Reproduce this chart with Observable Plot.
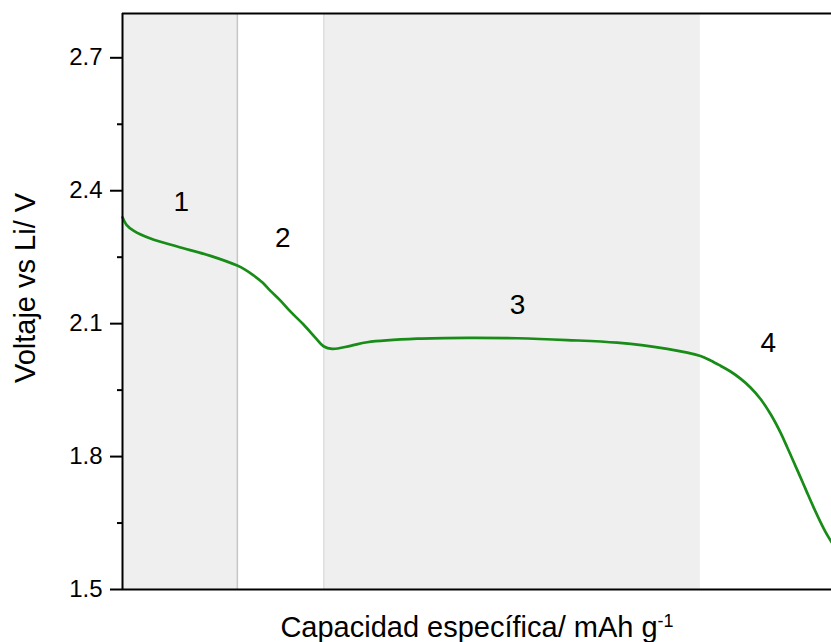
<!DOCTYPE html>
<html>
<head>
<meta charset="utf-8">
<script src="https://cdn.jsdelivr.net/npm/d3@7"></script>
<script src="https://cdn.jsdelivr.net/npm/@observablehq/plot@0.6"></script>
<style>
  html, body { margin: 0; padding: 0; background: white; }
</style>
</head>
<body>
<div id="chart"></div>
<script>
// Discharge curve (capacity in arbitrary units, voltage in V)
const capacity = [0, 0.56, 1.55, 3.95, 7.72, 12.41, 16.18, 17.28, 18.48, 19.75, 20.87, 22.28, 23.70, 25.53, 27.22, 28.35, 29.58, 32.16, 34.51, 41.57, 48.62, 55.67, 62.72, 69.77, 76.83, 81.52, 82.94, 84.34, 85.75, 87.16, 88.57, 89.99, 91.40, 92.81, 93.75, 94.64, 95.63, 96.47, 97.46, 98.45, 99.15, 100];
const voltage  = [2.340, 2.323, 2.310, 2.292, 2.274, 2.253, 2.231, 2.222, 2.209, 2.193, 2.174, 2.152, 2.127, 2.098, 2.068, 2.049, 2.043, 2.050, 2.058, 2.066, 2.068, 2.067, 2.063, 2.057, 2.043, 2.027, 2.017, 2.005, 1.992, 1.976, 1.956, 1.930, 1.896, 1.854, 1.821, 1.789, 1.753, 1.722, 1.686, 1.652, 1.630, 1.607];

// Shaded regions
const shadeStart = [0, 28.4];
const shadeEnd   = [16.2, 81.5];
const separators = [16.2, 28.4];
const separatorColors = ["#c6c6c6", "#dedede"];

// Region labels
const regionLabels = ["1", "2", "3", "4"];
const regionX = [8.3, 22.6, 55.7, 91.1];
const regionY = [2.375, 2.294, 2.143, 2.057];

// Y ticks
const majorTicks = [1.5, 1.8, 2.1, 2.4, 2.7];
const minorTicks = [1.65, 1.95, 2.25, 2.55];
const yDomain = [1.5, 2.8];
const xDomain = [0, 100];

const curve = capacity.map((c, i) => ({c, v: voltage[i]}));
const shades = shadeStart.map((s, i) => ({x1: s, x2: shadeEnd[i]}));
const seps = separators.map((s, i) => ({x: s, color: separatorColors[i]}));
const labels = regionLabels.map((t, i) => ({t, x: regionX[i], y: regionY[i]}));

const font = "'Liberation Sans', Arial, Helvetica, sans-serif";

const plot = Plot.plot({
  width: 831,
  height: 642,
  marginLeft: 122,
  marginRight: 0,
  marginTop: 13,
  marginBottom: 53,
  style: {fontFamily: font, background: "white", color: "black", fontSize: "24px"},
  x: {domain: xDomain, axis: null},
  y: {domain: yDomain},
  marks: [
    Plot.rect(shades, {x1: "x1", x2: "x2", y1: yDomain[0], y2: yDomain[1], fill: "#efefef"}),
    Plot.ruleX(seps, {x: "x", stroke: "color", strokeWidth: 1.5}),
    Plot.line(curve, {x: "c", y: "v", stroke: "#178c17", strokeWidth: 2.7, curve: "catmull-rom"}),
    Plot.text(labels, {x: "x", y: "y", text: "t", fontSize: 28, fill: "black"}),
    Plot.ruleY(yDomain, {stroke: "black", strokeWidth: 2}),
    Plot.ruleX([xDomain[0]], {stroke: "black", strokeWidth: 2}),
    Plot.axisY(majorTicks, {tickSize: 12, tickPadding: 8, fontSize: 24, strokeWidth: 2, label: null, tickFormat: d => d.toFixed(1), fill: "black"}),
    Plot.axisY(minorTicks, {tickSize: 5, strokeWidth: 2, label: null, tickFormat: () => ""}),
    Plot.text(["Voltaje vs Li/ V"], {frameAnchor: "left", rotate: -90, dx: -97, dy: -13.5, fontSize: 29, lineAnchor: "middle", textAnchor: "middle", fill: "black"}),
    Plot.text(["Capacidad específica/ mAh g"], {frameAnchor: "bottom", dy: 38.7, fontSize: 29, lineAnchor: "middle", textAnchor: "middle", fill: "black"})
  ]
});

document.getElementById("chart").appendChild(plot);

// Add superscript "-1" to the x label
d3.select(plot).selectAll("text").filter(function() {
  return this.textContent === "Capacidad específica/ mAh g";
}).each(function() {
  d3.select(this).append("tspan").attr("baseline-shift", "super").attr("font-size", 18).text("-1");
});
</script>
</body>
</html>
